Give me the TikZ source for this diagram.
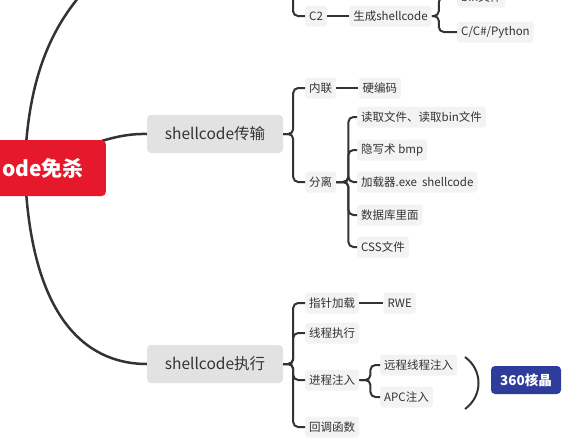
\documentclass[tikz,border=0pt]{standalone}
\usepackage{fontspec}
\setmainfont{Noto Sans CJK SC}
\usepackage{tikz}
\usetikzlibrary{positioning,calc}
\pgfdeclarelayer{background}
\pgfsetlayers{background,main}
\definecolor{rootred}{HTML}{E5192B}
\definecolor{hlblue}{HTML}{2E3D9C}
\definecolor{midgray}{HTML}{E2E2E2}
\definecolor{leafgray}{HTML}{F3F3F3}
\definecolor{linec}{HTML}{333333}

\begin{document}
\begin{tikzpicture}[x=1pt, y=-1pt]
\useasboundingbox (0,0) rectangle (585,445);
\tikzstyle{leaf}=[fill=leafgray, text=linec, rounded corners=3pt, anchor=west, inner xsep=4pt, inner ysep=0pt, minimum height=21pt, font=\fontsize{11.5}{13}\selectfont]
\tikzstyle{mid}=[fill=midgray, text=linec, rounded corners=4pt, minimum width=136pt, minimum height=38pt, font=\fontsize{15.5}{17}\selectfont]
\tikzstyle{rootbox}=[fill=rootred, text=white, rounded corners=4pt, anchor=east, text width=118pt, align=right, inner xsep=22pt, minimum height=56pt, font=\fontsize{21}{23}\selectfont\bfseries]
\tikzstyle{hl}=[fill=hlblue, text=white, rounded corners=4pt, minimum width=70pt, minimum height=28pt, font=\fontsize{13.5}{15}\selectfont\bfseries]
\tikzstyle{trunk}=[draw=linec, line width=2.5pt]
\tikzstyle{branch}=[draw=linec, line width=2pt, rounded corners=5pt]

% main topics
\node[rootbox] (root) at (106,168) {ode免杀};
\node[mid] (tr) at (215,134) {shellcode传输};
\node[mid] (zx) at (215,364) {shellcode执行};

% upper branch (cut off)
\coordinate (up) at (125,-45);
\coordinate (upJ) at (293,-30);
\node[leaf] (c2) at (305,16) {C2};
\node[leaf, right=22pt of c2] (gen) {生成shellcode};
\node[leaf] (bin) at (457,-3) {bin文件};
\node[leaf] (lang) at (457,32) {C/C\#/Python};

% shellcode transfer
\node[leaf] (nl) at (305,88) {内联};
\node[leaf, right=22pt of nl] (yb) {硬编码};
\node[leaf] (fl) at (305,182) {分离};
\node[leaf] (f1) at (357,117) {读取文件、读取bin文件};
\node[leaf] (f2) at (357,150) {隐写术 bmp};
\node[leaf] (f3) at (357,182) {加载器.exe\ \ shellcode};
\node[leaf] (f4) at (357,215) {数据库里面};
\node[leaf] (f5) at (357,247) {CSS文件};

% shellcode execution
\node[leaf] (zz) at (305,303) {指针加载};
\node[leaf, right=24pt of zz] (rwe) {RWE};
\node[leaf] (xc) at (305,333) {线程执行};
\node[leaf] (jc) at (305,380) {进程注入};
\node[leaf] (hd) at (305,427) {回调函数};
\node[leaf] (yc) at (380,365) {远程线程注入};
\node[leaf] (apc) at (380,397) {APC注入};
\node[hl] (hj) at (526,380) {360核晶};

\begin{pgfonlayer}{background}
\draw[trunk] (root.center) .. controls (28,60) and (62,0) .. (up);
\draw[trunk] (root.center) .. controls (80,150) and (110,133) .. (tr.west);
\draw[trunk] (root.center) .. controls (30,330) and (95,364) .. (zx.west);
\end{pgfonlayer}

\draw[branch] (upJ) |- (c2.west);
\draw[branch] (c2.east) -- (gen.west);
\foreach \k in {bin,lang} \draw[branch] (gen.east) -- ++(7,0) |- (\k.west);
\foreach \k in {nl,fl} \draw[branch] (tr.east) -- ++(10,0) |- (\k.west);
\draw[branch] (nl.east) -- (yb.west);
\foreach \k in {f1,f2,f3,f4,f5} \draw[branch] (fl.east) -- ++(12,0) |- (\k.west);
\foreach \k in {zz,xc,jc,hd} \draw[branch] (zx.east) -- ++(10,0) |- (\k.west);
\draw[branch] (zz.east) -- (rwe.west);
\foreach \k in {yc,apc} \draw[branch] (jc.east) -- ++(11,0) |- (\k.west);
% summary brace
\draw[branch] (465,357) .. controls (483,370) and (483,396) .. (465,409);
\end{tikzpicture}
\end{document}
